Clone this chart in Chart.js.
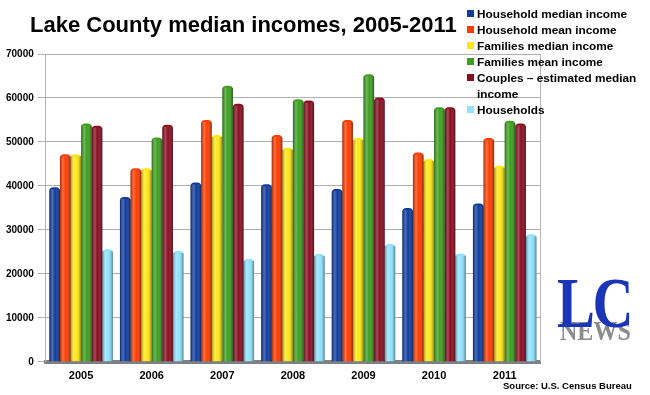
<!DOCTYPE html>
<html>
<head>
<meta charset="utf-8">
<script src="https://cdn.jsdelivr.net/npm/chart.js@4"></script>
<style>
  html, body { margin: 0; padding: 0; background: #fff; }
  #wrap { position: relative; width: 650px; height: 395px; overflow: hidden; font-family: "Liberation Sans", Arial, sans-serif; }
  #title { position: absolute; left: 30px; top: 12px; font-size: 22px; font-weight: bold; color: #000; white-space: nowrap; }
  #legend { position: absolute; left: 467px; top: 6px; width: 172px; font-size: 11.8px; font-weight: bold; color: #000; }
  #legend div { position: relative; padding-left: 10px; line-height: 16px; }
  #legend span { position: absolute; left: 0; top: 4px; width: 7px; height: 7px; }
  #logo1 { position: absolute; left: 557px; top: 263px; font-family: "Liberation Serif", serif; font-weight: bold; font-size: 71px; color: #1a35b8; letter-spacing: -3px; transform: scaleX(0.8); transform-origin: left top; line-height: normal; }
  #logo2 { position: absolute; left: 560px; top: 316px; font-family: "Liberation Serif", serif; font-weight: bold; font-size: 27px; color: #8c8c8c; transform: scaleX(0.89); transform-origin: left top; line-height: normal; }
  #source { position: absolute; left: 503px; top: 380px; font-size: 9.5px; font-weight: bold; color: #000; white-space: nowrap; }
</style>
</head>
<body>
<div id="wrap">
  <canvas id="chart" width="650" height="395"></canvas>
  <div id="title">Lake County median incomes, 2005-2011</div>
  <div id="legend"></div>
  <div id="logo2">NEWS</div>
  <div id="logo1">LC</div>
  <div id="source">Source: U.S. Census Bureau</div>
</div>
<script>
const years = ['2005', '2006', '2007', '2008', '2009', '2010', '2011'];
const hhMedian   = [39700, 37500, 40800, 40400, 39300, 35000, 36000];
const hhMean     = [47200, 44000, 55000, 51600, 55000, 47600, 50900];
const famMedian  = [47200, 44000, 51600, 48700, 50900, 46100, 44600];
const famMean    = [54200, 51000, 62800, 59700, 65400, 57900, 54800];
const couples    = [53700, 53900, 58700, 59400, 60100, 57900, 54200];
const households = [25600, 25200, 23400, 24500, 26800, 24600, 29000];
const names = ['Household median income', 'Household mean income', 'Families median income',
               'Families mean income', 'Couples \u2013 estimated median income', 'Households'];
const colors = ['#0d3b9e', '#ff3c00', '#ffe812', '#3c9f1e', '#8a0b1f', '#8fe3ff'];
const yMax = 70000, yStep = 10000;

const series = [hhMedian, hhMean, famMedian, famMean, couples, households];

// html legend
const legend = document.getElementById('legend');
names.forEach((n, i) => {
  const d = document.createElement('div');
  d.innerHTML = '<span style="background:' + colors[i] + '"></span>' + n;
  legend.appendChild(d);
});

// cylinder-ish shading over each bar + back wall edge
const shade = {
  id: 'shade',
  afterDatasetsDraw(chart) {
    const ctx = chart.ctx;
    chart.data.datasets.forEach((ds, i) => {
      chart.getDatasetMeta(i).data.forEach(bar => {
        const l = bar.x - bar.width / 2, w = bar.width;
        const g = ctx.createLinearGradient(l, 0, l + w, 0);
        g.addColorStop(0, 'rgba(0,0,0,0.35)');
        g.addColorStop(0.3, 'rgba(255,255,255,0.25)');
        g.addColorStop(0.55, 'rgba(255,255,255,0)');
        g.addColorStop(1, 'rgba(0,0,0,0.45)');
        ctx.save();
        ctx.fillStyle = g;
        ctx.fillRect(l, bar.y + 2, w, bar.base - bar.y - 2);
        ctx.restore();
      });
    });
    const a = chart.chartArea;
    ctx.save();
    ctx.strokeStyle = '#b5b5b5';
    ctx.lineWidth = 1;
    ctx.beginPath();
    ctx.moveTo(a.right + 0.5, a.top);
    ctx.lineTo(a.right + 0.5, a.bottom);
    ctx.stroke();
    ctx.restore();
  }
};

new Chart(document.getElementById('chart').getContext('2d'), {
  type: 'bar',
  data: {
    labels: years,
    datasets: series.map((d, i) => ({
      label: names[i],
      data: d,
      backgroundColor: colors[i],
      borderRadius: { topLeft: 4, topRight: 4 },
      borderSkipped: 'bottom'
    }))
  },
  options: {
    responsive: false,
    animation: false,
    layout: { padding: { left: 2, right: 110, top: 54, bottom: 12 } },
    categoryPercentage: 0.9,
    barPercentage: 1.0,
    plugins: { legend: { display: false }, tooltip: { enabled: false } },
    scales: {
      x: {
        grid: { display: false },
        border: { color: '#7d8186', width: 4 },
        ticks: { color: '#000', font: { family: 'Liberation Sans', size: 11, weight: 'bold' }, padding: 0 }
      },
      y: {
        min: 0, max: yMax,
        ticks: {
          stepSize: yStep, color: '#000', padding: 4,
          font: { family: 'Liberation Sans', size: 10, weight: 'bold' },
          callback: v => String(v)
        },
        grid: { color: '#b0b0b0', tickLength: 8 },
        border: { color: '#b0b0b0' }
      }
    }
  },
  plugins: [shade]
});
</script>
</body>
</html>
